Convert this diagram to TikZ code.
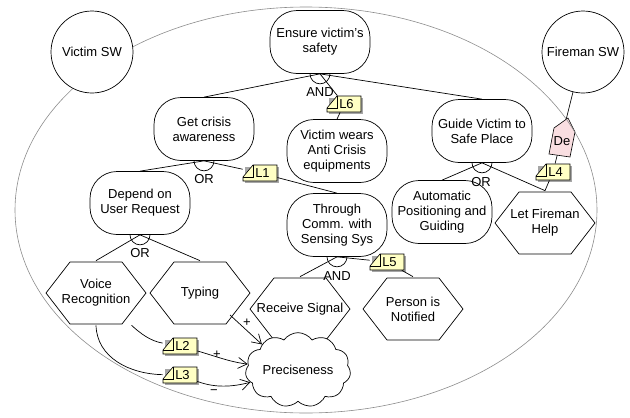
\documentclass[tikz,border=0pt]{standalone}
\usepackage{fontspec}
\setmainfont{Liberation Sans}
\usetikzlibrary{shapes.symbols,arrows.meta}

\definecolor{notefill}{HTML}{FFFFC4}
\definecolor{depfill}{HTML}{F9DEE1}
\definecolor{boundary}{HTML}{8C8C8C}

\tikzset{
  goal/.style={draw, fill=white, rounded corners=27pt, minimum width=100pt, minimum height=63pt, align=center, inner sep=1pt},
  task/.style={minimum width=102pt, minimum height=64pt, align=center, inner sep=0pt,
    path picture={\draw[fill=white] ([xshift=1pt]path picture bounding box.west)
      -- ([xshift=25pt,yshift=-1pt]path picture bounding box.north west)
      -- ([xshift=-25pt,yshift=-1pt]path picture bounding box.north east)
      -- ([xshift=-1pt]path picture bounding box.east)
      -- ([xshift=-25pt,yshift=1pt]path picture bounding box.south east)
      -- ([xshift=25pt,yshift=1pt]path picture bounding box.south west) -- cycle;}},
  actor/.style={draw, fill=white, circle, minimum size=82pt, inner sep=0pt},
  softgoal/.style={draw, fill=white, cloud, cloud puffs=11, cloud puff arc=110, aspect=1.6, minimum width=100pt, minimum height=62pt, inner sep=0pt},
  notebox/.style={inner sep=0pt, minimum width=34pt, minimum height=16pt},
  gatelabel/.style={inner sep=1pt},
  contrib/.style={-{Straight Barb[length=9pt,width=11pt]}},
}

% decomposition gate below a node
\newcommand{\gate}[1]{\draw (#1) ++(-10pt,0) arc[start angle=180, end angle=360, radius=10pt];}
% yellow link note: name, x, y, text
\newcommand{\linknote}[4]{%
  \fill[black!35] (#2-15,#3-6) -- (#2+19,#3-6) -- (#2+19,#3+10) -- (#2-15,#3+10) -- cycle;
  \draw[fill=notefill, line width=0.6pt] (#2-17,#3+4) -- (#2-7,#3-8) -- (#2+17,#3-8) -- (#2+17,#3+8) -- (#2-17,#3+8) -- cycle;
  \draw[line width=0.6pt] (#2-17,#3+4) -- (#2-7,#3+4) -- (#2-7,#3-8);
  \node[notebox] (#1) at (#2,#3) {\hspace*{5pt}#4};
}

\begin{document}
\begin{tikzpicture}[x=1pt, y=-1pt, line width=0.7pt, font=\fontsize{13}{15}\selectfont]
\useasboundingbox (0,0) rectangle (630,418);

% actor boundary
\draw[boundary, line width=0.6pt] (306,210) circle [x radius=291pt, y radius=203pt];

% actors
\node[actor] (vsw) at (92,52) {Victim SW};
\node[actor] (fsw) at (583,52) {Fireman SW};

% goals
\node[goal] (ens) at (320,42) {Ensure victim's\\safety};
\node[goal] (gca) at (204,129) {Get crisis\\awareness};
\node[goal] (vwe) at (337,151) {Victim wears\\Anti Crisis\\equipments};
\node[goal] (gvs) at (482,131) {Guide Victim to\\Safe Place};
\node[goal] (dur) at (140,203) {Depend on\\User Request};
\node[goal] (tcs) at (337,225) {Through\\Comm. with\\Sensing Sys};
\node[goal] (apg) at (442,212) {Automatic\\Positioning and\\Guiding};

% tasks
\node[task] (lfh) at (545,223) {Let Fireman\\Help};
\node[task] (vre) at (96,293) {Voice\\Recognition};
\node[task] (typ) at (200,293) {Typing};
\node[task] (rsi) at (300,309) {Receive Signal};
\node[task] (pno) at (413,309) {Person is\\Notified};

% softgoal
\node[softgoal] (pre) at (298,370) {Preciseness};

% notes
\linknote{l1}{260}{173}{L1}
\linknote{l2}{180}{346}{L2}
\linknote{l3}{180}{375}{L3}
\linknote{l4}{553}{172}{L4}
\linknote{l5}{387}{262}{L5}
\linknote{l6}{344}{104}{L6}

% decompositions
\draw (ens.south) -- (gca.north);
\draw (ens.south) -- (gvs.north);
\draw (ens.south) -- (l6) -- (vwe.north);
\gate{ens.south}
\node[gatelabel] (andens) at (320,92) {AND};

\draw (gca.south) -- (dur.north);
\draw (gca.south) -- (l1) -- (tcs.north);
\gate{gca.south}
\node[gatelabel] (orgca) at (204,179) {OR};

\draw (gvs.south) -- (apg.north);
\draw (gvs.south) -- (lfh.north);
\gate{gvs.south}
\node[gatelabel] (orgvs) at (481,182) {OR};

\draw (dur.south) -- (vre.north);
\draw (dur.south) -- (typ.north);
\gate{dur.south}
\node[gatelabel] (ordur) at (140,253) {OR};

\draw (tcs.south) -- (rsi.north);
\draw (tcs.south) -- (l5) -- (pno.north);
\gate{tcs.south}
\node[gatelabel] (andtcs) at (337,276) {AND};

% contributions
\draw (vre) .. controls (140,333) and (150,341) .. (l2);
\draw[contrib] (l2) .. controls (215,356) and (230,362) .. (pre);
\draw (vre.south) .. controls (97,358) and (130,374) .. (l3);
\draw[contrib] (l3) .. controls (215,388) and (232,387) .. (pre);
\draw[contrib] ([xshift=30pt,yshift=-22pt]typ.center) -- (pre.north west);
\node[gatelabel] (plusl2) at (217,355) {+};
\node[gatelabel] (minl3) at (214,392) {\textminus};
\node[gatelabel] (plustyp) at (247,323) {+};

% dependency
\draw (fsw) -- (l4) -- (lfh.north);
\draw[fill=depfill, line width=0.6pt] (568,118) -- (575,132) -- (570,157) -- (549,154) -- (554,128) -- cycle;
\begin{scope}
  \clip (568,118) -- (575,132) -- (570,157) -- (549,154) -- (554,128) -- cycle;
  \draw[boundary, line width=0.6pt] (306,210) circle [x radius=291pt, y radius=203pt];
\end{scope}
\node[inner sep=0pt] (dep) at (562,141) {De};

\end{tikzpicture}
\end{document}
